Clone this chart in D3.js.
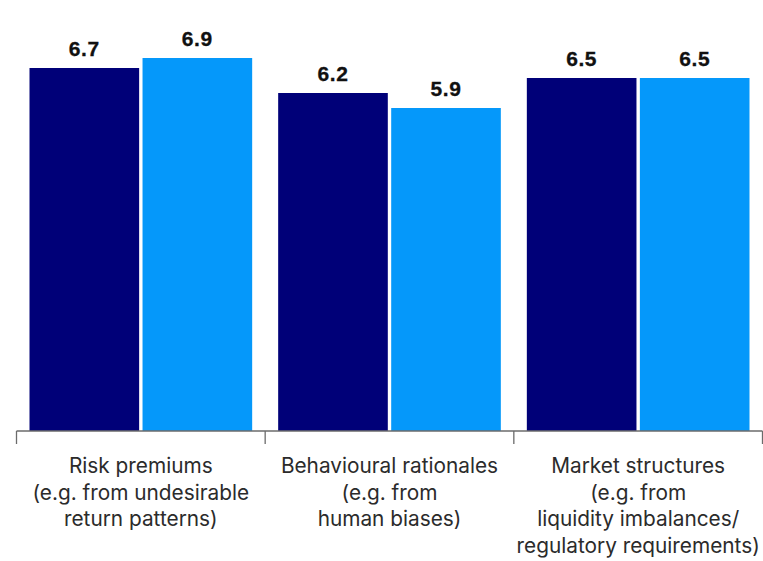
<!DOCTYPE html>
<html>
<head>
<meta charset="utf-8">
<script src="https://cdn.jsdelivr.net/npm/d3@7"></script>
<style>
  html, body { margin: 0; padding: 0; background: #ffffff; }
  svg { display: block; }
</style>
</head>
<body>
<svg id="chart" width="763" height="561"></svg>
<script>
// ---- data ----
const categories = ["Risk premiums", "Behavioural rationales", "Market structures"];
const categoryLabelLines = [
  ["Risk premiums", "(e.g. from undesirable", "return patterns)"],
  ["Behavioural rationales", "(e.g. from", "human biases)"],
  ["Market structures", "(e.g. from", "liquidity imbalances/", "regulatory requirements)"]
];
const seriesNames = ["Series A", "Series B"];
const seriesA = [6.7, 6.2, 6.5];
const seriesB = [6.9, 5.9, 6.5];
const seriesColors = ["#000078", "#0598fa"];

// ---- layout ----
const svg = d3.select("#chart");
const baseline = 431;
const axisLeft = 16.5, axisRight = 762.5;

const x0 = d3.scaleBand().domain(categories).range([axisLeft, axisRight]).paddingInner(0).paddingOuter(0);
const groupPad = 13;
const x1 = d3.scaleBand().domain(seriesNames)
  .range([groupPad, x0.bandwidth() - groupPad]).paddingInner(0.03).paddingOuter(0);
const y = d3.scaleLinear().domain([-0.56, 6.9]).range([baseline, 58]);

const rows = categories.map((c, i) => ({
  cat: c,
  values: [
    { s: seriesNames[0], v: seriesA[i], color: seriesColors[0] },
    { s: seriesNames[1], v: seriesB[i], color: seriesColors[1] }
  ]
}));

const g = svg.selectAll("g.grp").data(rows).join("g")
  .attr("class", "grp")
  .attr("transform", d => `translate(${x0(d.cat)},0)`);

g.selectAll("rect").data(d => d.values).join("rect")
  .attr("x", d => x1(d.s))
  .attr("width", x1.bandwidth())
  .attr("y", d => y(d.v))
  .attr("height", d => baseline - y(d.v))
  .attr("fill", d => d.color);

g.selectAll("text.val").data(d => d.values).join("text")
  .attr("class", "val")
  .attr("x", d => x1(d.s) + x1.bandwidth() / 2)
  .attr("y", d => y(d.v) - 12)
  .attr("text-anchor", "middle")
  .attr("font-family", "'Liberation Sans', Arial, sans-serif")
  .attr("font-weight", "bold")
  .attr("font-size", 21)
  .attr("letter-spacing", 0.6)
  .attr("fill", "#111111")
  .attr("stroke", "#111111")
  .attr("stroke-width", 0.3)
  .text(d => d.v.toFixed(1));

// ---- axis ----
const axis = d3.axisBottom(x0).tickSize(0).tickFormat("");
const axG = svg.append("g").attr("transform", `translate(0,${baseline})`).call(axis);
axG.select(".domain").attr("stroke", "#6b6b6b").attr("stroke-width", 1.3).attr("d", `M${axisLeft},0H${axisRight}`);
axG.selectAll(".tick").remove();
const boundaries = categories.map(c => x0(c)).concat([x0(categories[categories.length - 1]) + x0.bandwidth()]);
axG.selectAll("line.sep").data(boundaries).join("line")
  .attr("class", "sep")
  .attr("x1", d => d).attr("x2", d => d)
  .attr("y1", 0).attr("y2", 13)
  .attr("stroke", "#6b6b6b").attr("stroke-width", 1.3);

// ---- category labels ----
const lab = svg.selectAll("text.cat").data(categories).join("text")
  .attr("class", "cat")
  .attr("text-anchor", "middle")
  .attr("font-family", "Inter, 'Open Sans', sans-serif")
  .attr("font-size", 20.8)
  .attr("fill", "#2b2b2b");
lab.each(function(c, i) {
  const t = d3.select(this);
  categoryLabelLines[i].forEach((line, k) => {
    t.append("tspan")
      .attr("x", x0(c) + x0.bandwidth() / 2)
      .attr("y", 473 + k * 26.7)
      .text(line);
  });
});
</script>
</body>
</html>
